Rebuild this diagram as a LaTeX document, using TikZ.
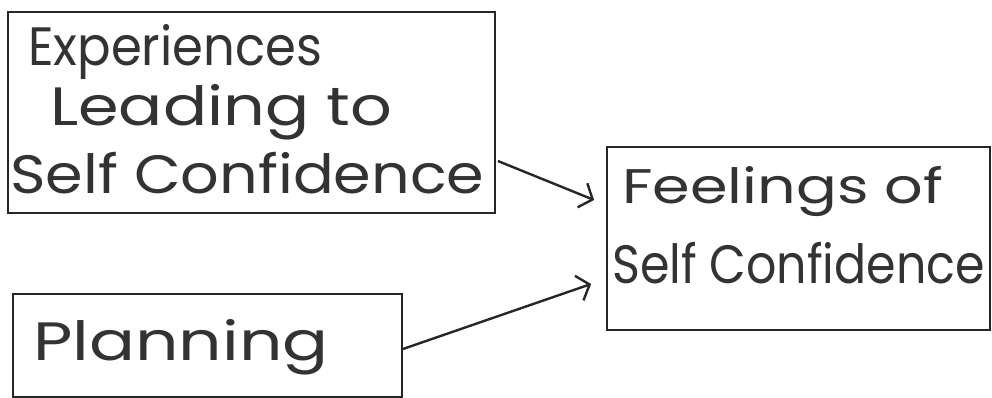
\documentclass[tikz,border=0pt]{standalone}
\usepackage{fontspec}
\setmainfont{Poppins}
\usetikzlibrary{arrows.meta}
\begin{document}
\begin{tikzpicture}[x=1pt,y=-1pt,
  box/.style={draw=black!85,line width=1.8pt,rectangle,inner sep=0pt},
  hand/.style={anchor=base west,inner sep=0pt,text=black!80,font=\fontsize{54}{60}\selectfont},
  arr/.style={draw=black!85,line width=2.4pt,-{Straight Barb[length=11pt,width=26pt,line width=2.4pt]}}]
\useasboundingbox (0,0) rectangle (992,397);
% boxes
\node[box,minimum width=487pt,minimum height=201pt] (b1) at (251.5,112.5) {};
\node[box,minimum width=389pt,minimum height=103pt] (b2) at (207.5,345.5) {};
\node[box,minimum width=383pt,minimum height=183pt] (b3) at (798.5,238.5) {};
% texts
\node[hand] (t1) at (28,65) {\scalebox{0.92}[1]{Experiences}};
\node[hand] (t2) at (50,125) {\scalebox{1.21}[1]{Leading to}};
\node[hand] (t3) at (10,193) {\scalebox{1.12}[1]{Self Confidence}};
\node[hand] (t4) at (33,360) {\scalebox{1.26}[1]{Planning}};
\node[hand] (t5) at (622,203) {\scalebox{1.12}[0.9]{Feelings of}};
\node[hand] (t6) at (612,283) {\scalebox{0.88}[1]{Self Confidence}};
% arrows
\draw[arr] ([yshift=-48.5pt,xshift=2pt]b1.east) -- ([xshift=-12pt,yshift=38.5pt]b3.west);
\draw[arr] ([yshift=-3.5pt]b2.east) -- ([xshift=-15pt,yshift=-45.5pt]b3.west);
\end{tikzpicture}
\end{document}
